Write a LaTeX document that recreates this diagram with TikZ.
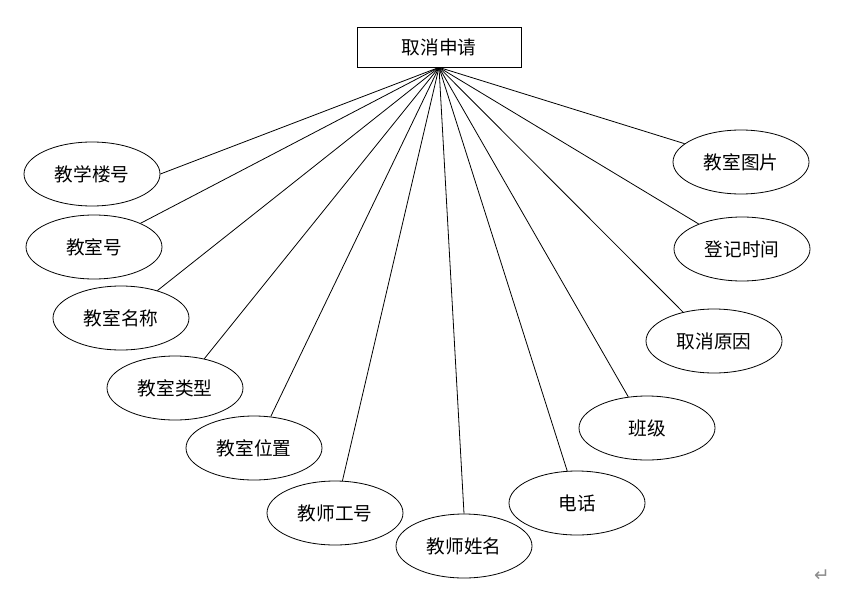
\documentclass[tikz,border=0pt]{standalone}
\usepackage{fontspec}
\setmainfont{Noto Sans CJK SC}
\newfontfamily\arrowfont{DejaVu Sans}
\usetikzlibrary{shapes.geometric}

\begin{document}
\begin{tikzpicture}[
  x=0.75pt, y=-0.75pt,
  every node/.style={font=\fontsize{14}{16}\selectfont, align=center, draw, inner sep=2pt},
  entity/.style={rectangle, minimum width=123pt, minimum height=30pt, line width=0.6pt},
  attr/.style={ellipse, minimum width=102pt, minimum height=48pt, line width=0.6pt},
  parasign/.style={draw=none, font=\arrowfont\fontsize{14}{16}\selectfont, text=black!45}
]
  \useasboundingbox (0,0) rectangle (848,606);
  \node[entity] (cancel) at (439,47) {取消申请};
  \coordinate (hub) at (cancel.south);
  \node[attr] (building) at (92,174) {教学楼号};
  \node[attr] (roomno) at (94,247) {教室号};
  \node[attr] (roomname) at (121,318) {教室名称};
  \node[attr] (roomtype) at (175,388) {教室类型};
  \node[attr] (roomloc) at (254,448) {教室位置};
  \node[attr] (teacherid) at (335,513) {教师工号};
  \node[attr] (teachername) at (464,546) {教师姓名};
  \node[attr] (phone) at (577,503) {电话};
  \node[attr] (class) at (647,428) {班级};
  \node[attr] (reason) at (714,341) {取消原因};
  \node[attr] (regtime) at (742,249) {登记时间};
  \node[attr] (roompic) at (741,162) {教室图片};
  \node[parasign] (para) at (822,576) {↵};
  \draw[line width=0.6pt] (hub) -- (building.east);
  \draw[line width=0.6pt] (hub) -- (roomno.27);
  \draw[line width=0.6pt] (hub) -- (roomname.37);
  \draw[line width=0.6pt] (hub) -- (roomtype.45);
  \draw[line width=0.6pt] (hub) -- (roomloc.62);
  \draw[line width=0.6pt] (hub) -- (teacherid.77);
  \draw[line width=0.6pt] (hub) -- (teachername.north);
  \draw[line width=0.6pt] (hub) -- (phone.107);
  \draw[line width=0.6pt] (hub) -- (class.121);
  \draw[line width=0.6pt] (hub) -- (reason.137);
  \draw[line width=0.6pt] (hub) -- (regtime.150);
  \draw[line width=0.6pt] (hub) -- (roompic.162);
\end{tikzpicture}
\end{document}
